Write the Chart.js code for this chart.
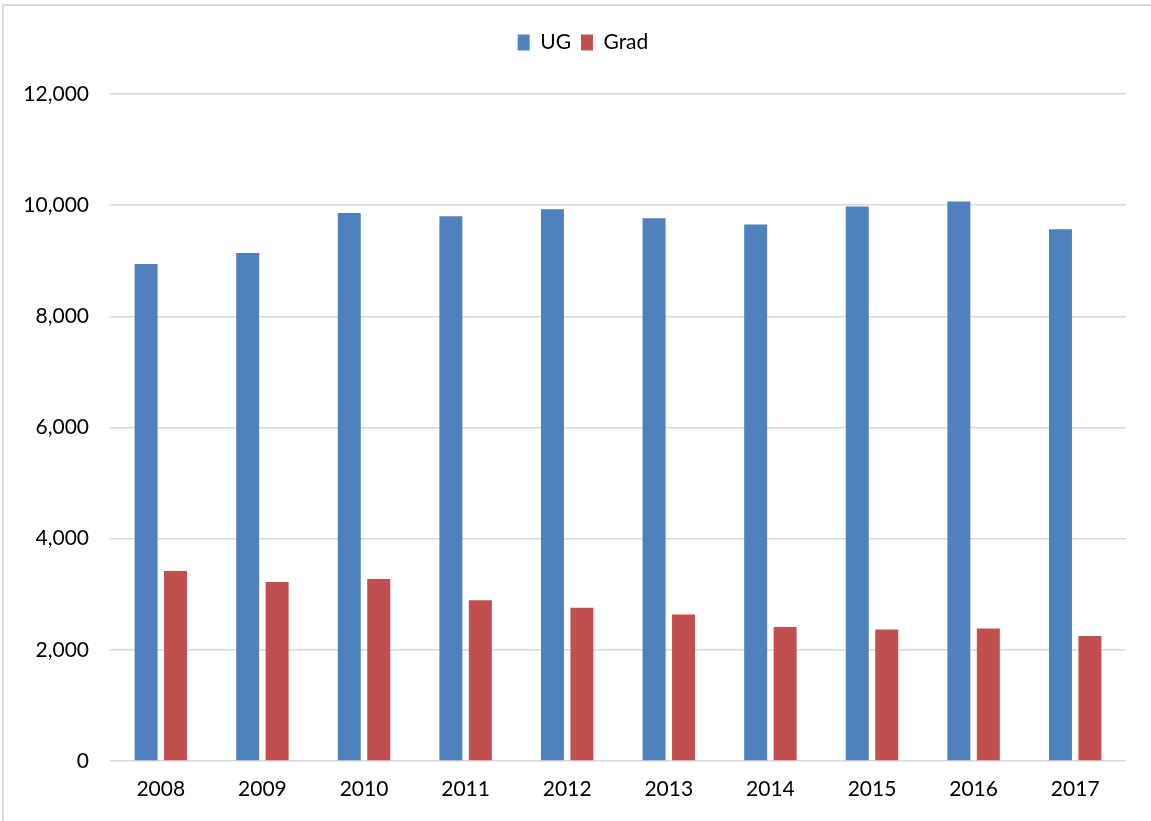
<!DOCTYPE html>
<html>
<head>
<meta charset="utf-8">
<script src="https://cdn.jsdelivr.net/npm/chart.js@4.4.1/dist/chart.umd.min.js"></script>
<style>
    html, body { margin: 0; padding: 0; background: #fff; overflow: hidden; }
    #frame {
        position: absolute; left: 2px; top: 4px; width: 1160px; height: 830px;
        border: 2px solid #d9d9d9; box-sizing: border-box;
    }
    #wrap { position: absolute; left: 0; top: 0; width: 1151px; height: 821px; }
</style>
</head>
<body>
<div id="frame"></div>
<div id="wrap"><canvas id="enrollChart"></canvas></div>
<script>
// Dados
const anos = ['2008', '2009', '2010', '2011', '2012', '2013', '2014', '2015', '2016', '2017'];
const ugValores = [8940, 9140, 9860, 9800, 9925, 9765, 9650, 9975, 10065, 9565];
const gradValores = [3420, 3220, 3275, 2890, 2755, 2635, 2410, 2365, 2385, 2250];
const yTicks = [0, 2000, 4000, 6000, 8000, 10000, 12000];

const fonte = "Lato, 'Open Sans', sans-serif";

// Espaço extra abaixo da legenda e legenda centrada na figura
const legendaAlta = {
    id: 'legendaAlta',
    beforeInit(chart) {
        const fitOriginal = chart.legend.fit;
        chart.legend.fit = function () {
            fitOriginal.call(this);
            this.height += 31;
        };
        const drawOriginal = chart.legend.draw;
        chart.legend.draw = function () {
            const ctx = this.ctx;
            ctx.save();
            ctx.translate(20, 0);
            drawOriginal.call(this);
            ctx.restore();
        };
    }
};

const enrollChart = new Chart(document.getElementById('enrollChart'), {
    type: 'bar',
    data: {
        labels: anos,
        datasets: [{
            label: 'UG',
            data: ugValores,
            backgroundColor: '#4f81bd',
            categoryPercentage: 0.58,
            barPercentage: 0.78
        }, {
            label: 'Grad',
            data: gradValores,
            backgroundColor: '#c0504d',
            categoryPercentage: 0.58,
            barPercentage: 0.78
        }]
    },
    options: {
        responsive: true,
        maintainAspectRatio: false,
        animation: false,
        layout: {
            padding: { left: 0, right: 25, top: 22, bottom: 0 }
        },
        scales: {
            x: {
                grid: { display: false },
                border: { display: false },
                ticks: { color: '#000', font: { family: fonte, size: 21 }, padding: 8 },
                afterFit: (scale) => { scale.height = 60; }
            },
            y: {
                min: 0,
                max: 12000,
                afterBuildTicks: (scale) => { scale.ticks = yTicks.map(v => ({ value: v })); },
                grid: { color: '#d9d9d9', lineWidth: 1.5, drawTicks: false },
                border: { display: false },
                ticks: {
                    color: '#000',
                    font: { family: fonte, size: 21 },
                    padding: 21,
                    callback: (v) => v.toLocaleString('en-US')
                },
                afterFit: (scale) => { scale.width = 110; }
            }
        },
        plugins: {
            legend: {
                position: 'top',
                labels: {
                    color: '#000',
                    font: { family: fonte, size: 21 },
                    boxWidth: 12,
                    boxHeight: 16,
                    padding: 10
                }
            },
            tooltip: { enabled: false }
        }
    },
    plugins: [legendaAlta]
});
</script>
</body>
</html>
